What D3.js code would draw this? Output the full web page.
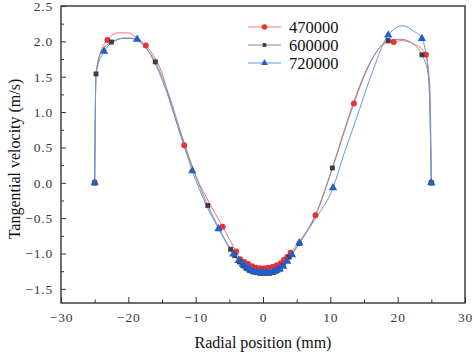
<!DOCTYPE html>
<html><head><meta charset="utf-8">
<script src="https://cdn.jsdelivr.net/npm/d3@7"></script>
<style>
html,body{margin:0;padding:0;background:#fff;}
svg{display:block;}
svg text{font-family:"Liberation Serif","Times New Roman","DejaVu Serif",serif;}
</style></head>
<body><svg id="c" width="474" height="357"></svg>
<script>
// ---- data ----
const seriesNames = ["470000", "600000", "720000"];
const xTicks = [-30, -20, -10, 0, 10, 20, 30];
const yTicks = [-1.5, -1.0, -0.5, 0.0, 0.5, 1.0, 1.5, 2.0, 2.5];

// 470000 line (x, y) and marker flags
const x470 = [-25, -24.8, -24.2, -23.1, -21.5, -20.0, -19.0, -17.4, -15.0, -13.5, -11.7, -10.0, -8.0, -6.0, -4.0, -3.4, -2.8, -2.2, -1.6, -1.0, -0.4, 0.2, 0.8, 1.4, 2.0, 2.6, 3.1, 3.6, 4.1, 5.5, 7.8, 10.3, 12.0, 13.5, 15.9, 18.1, 19.4, 20.5, 22.5, 24.2, 24.8, 25];
const y470 = [0, 1.50, 1.82, 2.02, 2.12, 2.12, 2.07, 1.94, 1.55, 1.05, 0.53, 0.10, -0.28, -0.62, -0.97, -1.08, -1.12, -1.15, -1.18, -1.20, -1.21, -1.21, -1.20, -1.19, -1.17, -1.14, -1.09, -1.05, -0.99, -0.82, -0.46, 0.20, 0.70, 1.12, 1.69, 1.97, 1.99, 2.01, 1.96, 1.81, 1.30, 0];
const m470 = [1, 0, 0, 1, 0, 0, 0, 1, 0, 0, 1, 0, 0, 1, 1, 1, 1, 1, 1, 1, 1, 1, 1, 1, 1, 1, 1, 1, 1, 0, 1, 0, 0, 1, 0, 0, 1, 0, 0, 1, 0, 1];

// 600000
const x600 = [-25, -24.8, -24.0, -22.5, -21.0, -19.5, -18.5, -16.0, -14.0, -12.0, -10.0, -8.2, -6.5, -4.8, -4.2, -3.5, -3.0, -2.5, -2.0, -1.5, -1.0, -0.5, 0.0, 0.5, 1.0, 1.5, 2.0, 2.5, 3.0, 3.9, 5.4, 7.8, 10.3, 12.0, 13.5, 15.9, 18.6, 20.5, 22.5, 23.6, 24.6, 25];
const y600 = [0, 1.54, 1.86, 1.99, 2.04, 2.04, 2.00, 1.71, 1.25, 0.65, 0.10, -0.32, -0.65, -0.94, -1.03, -1.12, -1.17, -1.21, -1.24, -1.26, -1.27, -1.28, -1.28, -1.28, -1.28, -1.27, -1.25, -1.22, -1.17, -1.05, -0.86, -0.45, 0.21, 0.72, 1.15, 1.70, 2.01, 2.03, 1.95, 1.81, 1.50, 0];
const m600 = [1, 1, 0, 1, 0, 0, 0, 1, 0, 0, 0, 1, 0, 1, 1, 1, 1, 1, 1, 1, 1, 1, 1, 1, 1, 1, 1, 1, 1, 1, 1, 0, 1, 0, 0, 0, 1, 0, 0, 1, 0, 1];

// 720000
const x720 = [-25, -24.8, -23.6, -22.0, -20.5, -18.7, -16.0, -14.0, -12.0, -10.5, -8.5, -6.6, -4.4, -3.6, -3.0, -2.5, -2.0, -1.5, -1.0, -0.5, 0.0, 0.5, 1.0, 1.5, 2.0, 2.5, 3.0, 3.6, 4.3, 5.4, 7.5, 10.4, 12.0, 13.8, 16.0, 18.6, 20.8, 22.3, 23.6, 24.6, 25];
const y720 = [0, 1.55, 1.86, 2.00, 2.05, 2.03, 1.68, 1.20, 0.60, 0.17, -0.30, -0.65, -1.01, -1.10, -1.15, -1.19, -1.22, -1.25, -1.26, -1.27, -1.27, -1.27, -1.27, -1.26, -1.24, -1.22, -1.18, -1.11, -1.02, -0.85, -0.55, -0.07, 0.40, 0.89, 1.50, 2.09, 2.22, 2.15, 2.04, 1.50, 0];
const m720 = [1, 0, 1, 0, 0, 1, 0, 0, 0, 1, 0, 1, 1, 1, 1, 1, 1, 1, 1, 1, 1, 1, 1, 1, 1, 1, 1, 1, 1, 1, 0, 1, 0, 0, 0, 1, 0, 0, 1, 0, 1];

const lineColors = ["#f27474", "#8c8c8c", "#6199e6"];
const markColors = ["#e8313b", "#3d3d3d", "#1f5fcc"];
const markTypes = [d3.symbolCircle, d3.symbolSquare, d3.symbolTriangle];
const markSizes = [28, 24, 30];
const legSizes = [24, 14, 20];

// ---- chart ----
const svg = d3.select("#c");
const x = d3.scaleLinear().domain([-30, 30]).range([61, 465]);
const y = d3.scaleLinear().domain([-1.7, 2.5]).range([303, 6]);
const axisColor = "#333";
const serif = "Liberation Serif, Times New Roman, DejaVu Serif, serif";

const series = [[x470, y470, m470], [x600, y600, m600], [x720, y720, m720]].map(([xs, ys, ms]) =>
  xs.map((v, i) => ({x: v, y: ys[i], m: ms[i]})));

const line = d3.line().x(d => x(d.x)).y(d => y(d.y)).curve(d3.curveMonotoneX);

series.forEach((s, k) => {
  svg.append("path").datum(s).attr("d", line)
    .attr("fill", "none").attr("stroke", lineColors[k]).attr("stroke-width", 1);
});
series.forEach((s, k) => {
  svg.append("g").selectAll("path").data(s.filter(d => d.m)).join("path")
    .attr("transform", d => `translate(${x(d.x)},${y(d.y)})`)
    .attr("d", d3.symbol().type(markTypes[k]).size(markSizes[k]))
    .attr("fill", markColors[k]);
});

// axes (ticks inward)
const gx = svg.append("g").attr("transform", "translate(0,303)")
  .call(d3.axisBottom(x).tickValues(d3.range(-30, 30.1, 5)).tickSize(-6).tickPadding(9)
    .tickFormat(d => xTicks.includes(d) ? (d < 0 ? "\u2212" + Math.abs(d) : d) : ""));
gx.selectAll(".tick line").attr("y2", (d) => xTicks.includes(d) ? -6 : -3.5);
const gy = svg.append("g").attr("transform", "translate(61,0)")
  .call(d3.axisLeft(y).tickValues(d3.range(-1.5, 2.51, 0.25)).tickSize(-5).tickPadding(8)
    .tickFormat(d => {
      const t = yTicks.find(v => Math.abs(v - d) < 1e-6);
      return t === undefined ? "" : (t < 0 ? "\u2212" : "") + Math.abs(t).toFixed(1);
    }));
gy.selectAll(".tick line").attr("x2", d => yTicks.some(v => Math.abs(v - d) < 1e-6) ? 5 : 3);
[gx, gy].forEach(g => {
  g.attr("font-family", serif);
  g.select(".domain").remove();
  g.selectAll(".tick line").attr("stroke", axisColor).attr("stroke-width", 1);
  g.selectAll("text").attr("fill", "#3a3a3a").attr("font-size", 13.5)
    .attr("font-family", serif).style("letter-spacing", "0.8px");
});
svg.append("rect").attr("x", 61).attr("y", 6).attr("width", 404).attr("height", 297)
  .attr("fill", "none").attr("stroke", axisColor).attr("stroke-width", 1.4);

// axis titles
svg.append("text").attr("x", 263).attr("y", 348).attr("text-anchor", "middle")
  .attr("font-family", serif).attr("font-size", 16).attr("fill", "#111").text("Radial position (mm)");
svg.append("text").attr("transform", "translate(20,159) rotate(-90)").attr("text-anchor", "middle")
  .attr("font-family", serif).attr("font-size", 16).attr("fill", "#111").text("Tangential velocity (m/s)");

// legend
const leg = svg.append("g");
seriesNames.forEach((n, k) => {
  const yy = 27 + k * 18;
  leg.append("line").attr("x1", 248).attr("x2", 281).attr("y1", yy).attr("y2", yy)
    .attr("stroke", lineColors[k]).attr("stroke-width", 1);
  leg.append("path").attr("transform", `translate(264.5,${yy})`)
    .attr("d", d3.symbol().type(markTypes[k]).size(legSizes[k])).attr("fill", markColors[k]);
  leg.append("text").attr("x", 289).attr("y", yy + 5.5).attr("font-family", serif).attr("font-size", 16.5)
    .attr("fill", "#111").text(n);
});
</script></body></html>
